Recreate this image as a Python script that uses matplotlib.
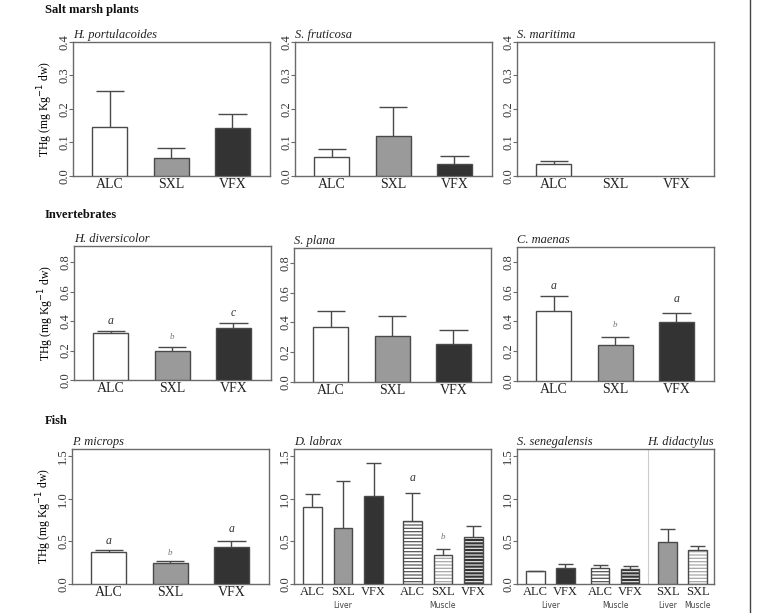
import numpy as np
import matplotlib
matplotlib.use("Agg")
import matplotlib.pyplot as plt

plt.rcParams['font.family'] = ['Liberation Serif', 'DejaVu Serif']
plt.rcParams['hatch.linewidth'] = 0.9

W, H = 758, 613

# colours
WHITE = '#ffffff'
GREY = '#9a9a9a'
DARK = '#333333'
EDGE = '#4a4a4a'
FRAME = '#6a6a6a'

# ---------------- data (mean, top of error bar) ----------------
sites = ['ALC', 'SXL', 'VFX']

hport_mean = [0.147, 0.053, 0.142]
hport_top = [0.255, 0.084, 0.185]
sfrut_mean = [0.058, 0.118, 0.036]
sfrut_top = [0.081, 0.206, 0.060]
smari_mean = [0.036, 0.0, 0.0]
smari_top = [0.046, 0.0, 0.0]

hdiv_mean = [0.320, 0.200, 0.356]
hdiv_top = [0.336, 0.222, 0.388]
hdiv_letters = ['a', 'b', 'c']
hdiv_letter_y = [0.40, 0.295, 0.453]
splana_mean = [0.372, 0.306, 0.255]
splana_top = [0.476, 0.441, 0.346]
cmae_mean = [0.472, 0.244, 0.395]
cmae_top = [0.574, 0.295, 0.459]
cmae_letters = ['a', 'b', 'a']
cmae_letter_y = [0.64, 0.377, 0.554]

pmic_mean = [0.376, 0.250, 0.435]
pmic_top = [0.396, 0.266, 0.505]
pmic_letters = ['a', 'b', 'a']
pmic_letter_y = [0.505, 0.364, 0.646]

dlab_labels = ['ALC', 'SXL', 'VFX', 'ALC', 'SXL', 'VFX']
dlab_mean = [0.900, 0.654, 1.030, 0.737, 0.340, 0.556]
dlab_top = [1.058, 1.210, 1.418, 1.073, 0.410, 0.678]
dlab_letters = ['', '', '', 'a', 'b', '']
dlab_letter_y = [0, 0, 0, 1.24, 0.553, 0]

ssen_labels = ['ALC', 'VFX', 'ALC', 'VFX', 'SXL', 'SXL']
ssen_mean = [0.149, 0.190, 0.184, 0.172, 0.497, 0.403]
ssen_top = [0.151, 0.230, 0.223, 0.210, 0.646, 0.447]

# bar styles: (fill, hatch, hatch colour)
liver = [(WHITE, None, None), (GREY, None, None), (DARK, None, None)]
muscle = [(WHITE, '-----', '#555555'), (WHITE, '-----', '#a8a8a8'),
          (DARK, '-----', '#e0e0e0')]

x3 = [1.05, 2.8, 4.55]
xlim3 = (0, 5.62)
x6 = [1.0, 2.65, 4.3, 6.4, 8.05, 9.7]
xlim6 = (0, 10.65)
x6b = [0.98, 2.6, 4.46, 6.07, 8.09, 9.69]
xlim6b = (0, 10.57)

fig = plt.figure(figsize=(W / 100, H / 100), dpi=100)


def add_ax(left, top, w=197, h=134):
    return fig.add_axes([left / W, 1 - (top + h) / H, w / W, h / H])


def panel(ax, xs, means, tops, styles, labels, xlim, ylim, yticks, title,
          letters=None, letter_y=None, bw=1.0, xfs=10):
    for x, m, t, st in zip(xs, means, tops, styles):
        fill, hatch, hcol = st
        if m <= 0:
            continue
        if hatch:
            ax.bar(x, m, width=bw, color=fill, edgecolor=hcol, hatch=hatch,
                   linewidth=0, zorder=2)
            ax.bar(x, m, width=bw, color='none', edgecolor=EDGE,
                   linewidth=1.0, zorder=3)
        else:
            ax.bar(x, m, width=bw, color=fill, edgecolor=EDGE,
                   linewidth=1.0, zorder=3)
        if t > m:
            ax.vlines(x, m, t, color=EDGE, linewidth=1.0, zorder=4)
            ax.hlines(t, x - 0.4 * bw, x + 0.4 * bw, color=EDGE,
                      linewidth=1.0, zorder=4)
    if letters:
        for x, lt, ly in zip(xs, letters, letter_y):
            if lt:
                small = lt == 'b'
                ax.text(x, ly, lt, ha='center', va='center', style='italic',
                        fontsize=6.5 if small else 8.5,
                        color='#777777' if small else '#333333')
    ax.set_xlim(*xlim)
    ax.set_ylim(*ylim)
    ax.set_yticks(yticks)
    ax.set_yticklabels([f'{v:.1f}' for v in yticks], rotation=90,
                       va='center', fontsize=9, color='#333333')
    ax.set_xticks(xs)
    ax.set_xticklabels(labels, fontsize=xfs, color='#222222')
    ax.tick_params(axis='x', length=0, pad=1.5)
    ax.tick_params(axis='y', length=3, width=0.8, color=FRAME, pad=-1)
    for sp in ax.spines.values():
        sp.set_color(FRAME)
        sp.set_linewidth(1.0)
    ax.text(0.0, 1.01, title, transform=ax.transAxes, ha='left',
            va='bottom', style='italic', fontsize=9, color='#222222')


def tissue(ax, x, txt):
    ax.text(x, -0.16, txt, transform=ax.get_xaxis_transform(),
            ha='center', va='center', fontsize=5.5, family='DejaVu Sans',
            color='#444444')


ylab = r'THg (mg Kg$^{-1}$ dw)'

# ---- Salt marsh plants ----
yt1 = [0.0, 0.1, 0.2, 0.3, 0.4]
ax = add_ax(73, 42)
panel(ax, x3, hport_mean, hport_top, liver, sites, xlim3, (0, 0.4), yt1,
      'H. portulacoides')
ax.set_ylabel(ylab, fontsize=8.5, labelpad=2)
ax = add_ax(295, 42)
panel(ax, x3, sfrut_mean, sfrut_top, liver, sites, xlim3, (0, 0.4), yt1,
      'S. fruticosa')
ax = add_ax(517, 42)
panel(ax, x3, smari_mean, smari_top, liver, sites, xlim3, (0, 0.4), yt1,
      'S. maritima')

# ---- Invertebrates ----
yt2 = [0.0, 0.2, 0.4, 0.6, 0.8]
ax = add_ax(74, 246)
panel(ax, x3, hdiv_mean, hdiv_top, liver, sites, xlim3, (0, 0.91), yt2,
      'H. diversicolor', hdiv_letters, hdiv_letter_y)
ax.set_ylabel(ylab, fontsize=8.5, labelpad=2)
ax = add_ax(294, 248)
panel(ax, x3, splana_mean, splana_top, liver, sites, xlim3, (0, 0.9), yt2,
      'S. plana')
ax = add_ax(517, 247)
panel(ax, x3, cmae_mean, cmae_top, liver, sites, xlim3, (0, 0.9), yt2,
      'C. maenas', cmae_letters, cmae_letter_y)

# ---- Fish ----
yt3 = [0.0, 0.5, 1.0, 1.5]
ax = add_ax(72, 449, h=135)
panel(ax, x3, pmic_mean, pmic_top, liver, sites, xlim3, (0, 1.585), yt3,
      'P. microps', pmic_letters, pmic_letter_y)
ax.set_ylabel(ylab, fontsize=8.5, labelpad=2)

ax = add_ax(294, 449, h=135)
panel(ax, x6, dlab_mean, dlab_top, liver + muscle, dlab_labels, xlim6,
      (0, 1.585), yt3, 'D. labrax', dlab_letters, dlab_letter_y, xfs=9)
tissue(ax, x6[1], 'Liver')
tissue(ax, x6[4], 'Muscle')

ax = add_ax(517, 449, h=135)
ssen_styles = [liver[0], liver[2], muscle[0], muscle[2], liver[1], muscle[1]]
panel(ax, x6b, ssen_mean, ssen_top, ssen_styles, ssen_labels, xlim6b,
      (0, 1.585), yt3, 'S. senegalensis', xfs=9)
ax.axvline(7.05, color='#cccccc', linewidth=0.8, zorder=1)
ax.text(1.0, 1.01, 'H. didactylus', transform=ax.transAxes, ha='right',
        va='bottom', style='italic', fontsize=9, color='#222222')
tissue(ax, (x6b[0] + x6b[1]) / 2, 'Liver')
tissue(ax, (x6b[2] + x6b[3]) / 2, 'Muscle')
tissue(ax, x6b[4], 'Liver')
tissue(ax, x6b[5], 'Muscle')

# section headings
for y, txt in [(10, 'Salt marsh plants'), (215, 'Invertebrates'), (421, 'Fish')]:
    fig.text(45 / W, 1 - y / H, txt, ha='left', va='center',
             fontweight='bold', fontsize=9, color='#111111')

# right border line
fig.add_artist(plt.Line2D([750 / W, 750 / W], [0, 1], color='#444444',
                          linewidth=1.0))

fig.savefig('out.png', dpi=100)
